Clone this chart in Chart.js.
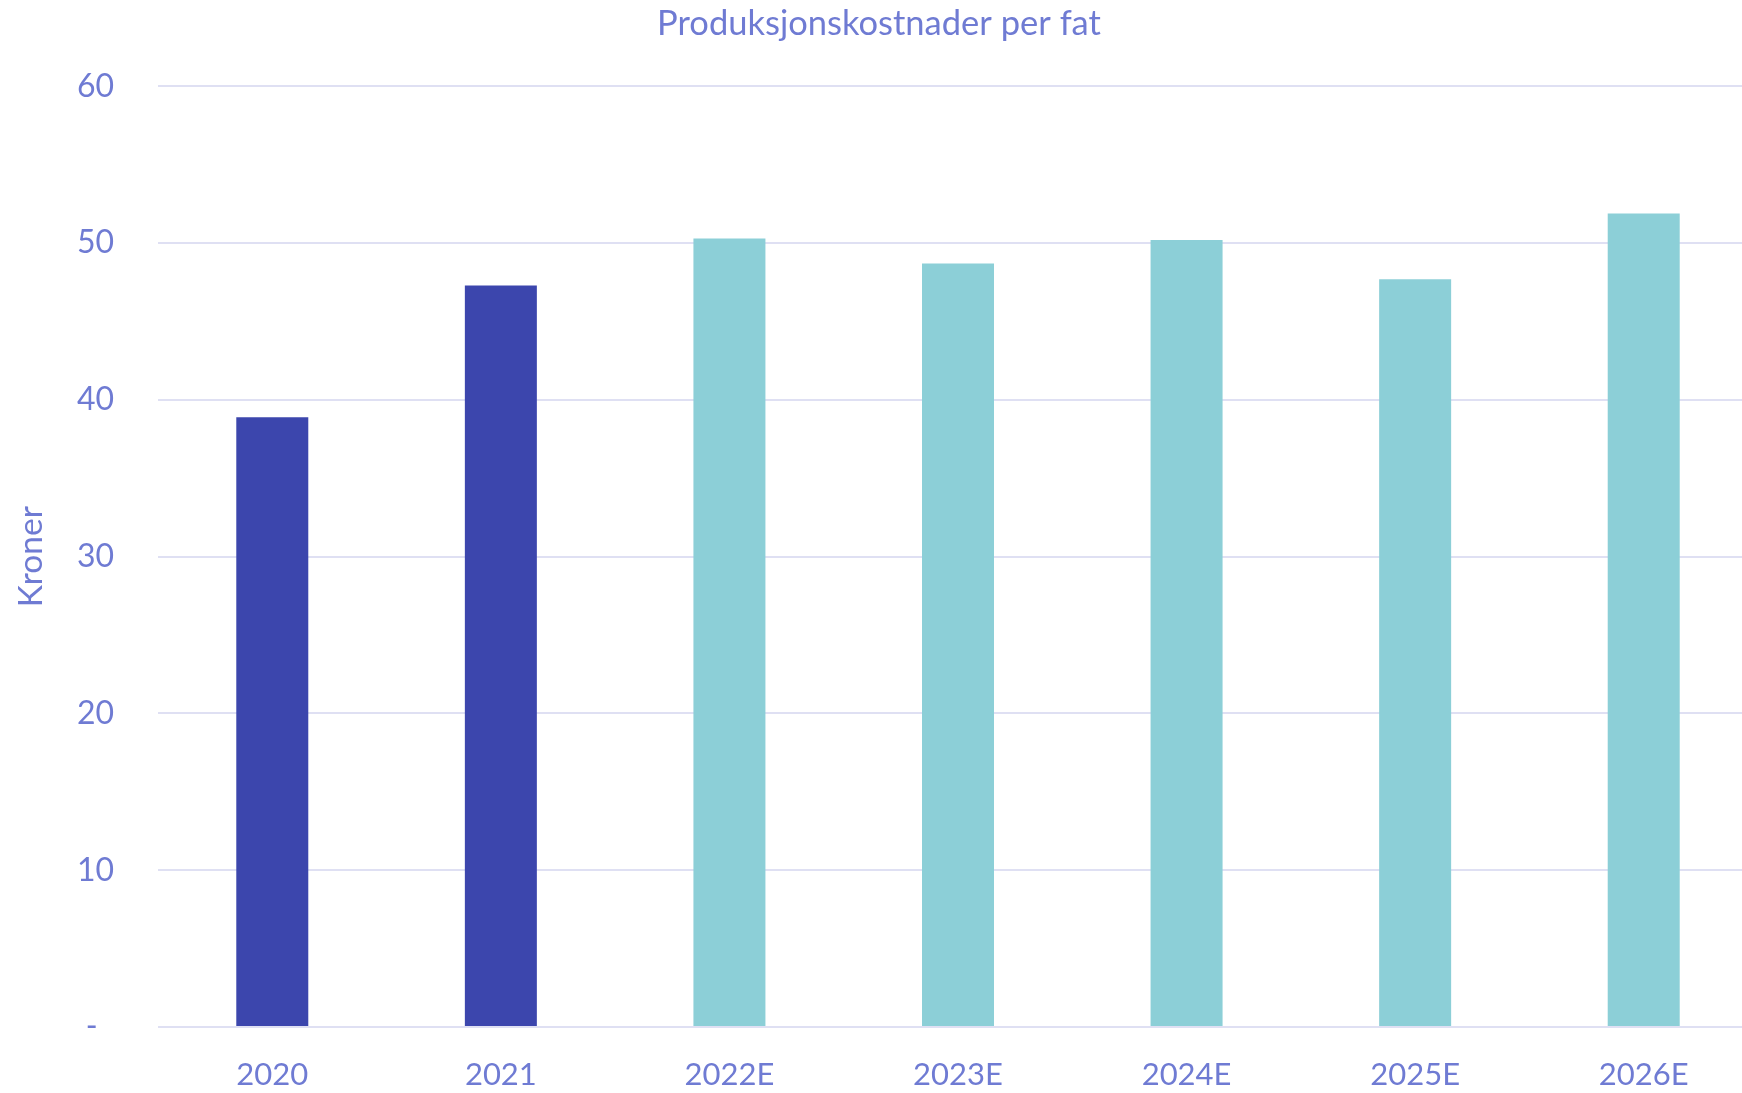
<!DOCTYPE html>
<html>
<head>
<meta charset="utf-8">
<script src="https://cdn.jsdelivr.net/npm/chart.js@4"></script>
<style>
  html, body { margin: 0; padding: 0; background: #ffffff; overflow: hidden; }
  #wrap { width: 1760px; height: 1093px; }
</style>
</head>
<body>
<div id="wrap"><canvas id="chart" width="1760" height="1093"></canvas></div>
<script>
const years = ['2020', '2021', '2022E', '2023E', '2024E', '2025E', '2026E'];
const costPerBarrel = [38.9, 47.3, 50.3, 48.7, 50.2, 47.7, 51.9];
const isEstimate = [false, false, true, true, true, true, true];

const textColor = '#6f7bd3';
const font = "Lato, 'Open Sans', sans-serif";

const ctx = document.getElementById('chart');

new Chart(ctx, {
    type: 'bar',
    data: {
        labels: years,
        datasets: [
            {
                label: 'Kroner',
                data: costPerBarrel,
                backgroundColor: isEstimate.map((e) => e ? '#8ccfd7' : '#3c46ad'),
                borderWidth: 0,
                categoryPercentage: 1,
                barPercentage: 0.315,
            },
        ],
    },
    options: {
        responsive: false,
        animation: false,
        layout: { padding: { left: 0, right: 2, top: 0, bottom: 0 } },
        plugins: {
            legend: { display: false },
            tooltip: { enabled: false },
            title: {
                display: true,
                text: 'Produksjonskostnader per fat',
                color: textColor,
                font: { family: font, size: 34.5, weight: 'normal' },
                padding: { top: 3, bottom: 42 },
            },
        },
        scales: {
            x: {
                grid: { display: false, drawTicks: false },
                border: { display: false },
                ticks: {
                    color: textColor,
                    font: { family: font, size: 31 },
                    padding: 29,
                    maxRotation: 0,
                },
                afterFit: (scale) => { scale.height = 66; },
            },
            y: {
                min: 0,
                max: 60,
                grid: { color: '#dfe0f3', lineWidth: 2, drawTicks: false },
                border: { display: false },
                ticks: {
                    stepSize: 10,
                    color: textColor,
                    font: { family: font, size: 32 },
                    padding: 44,
                    // excel style dash for zero, sits a bit left of the numbers
                    callback: (v) => v === 0 ? '-  ' : v,
                },
                title: {
                    display: true,
                    text: 'Kroner',
                    color: textColor,
                    font: { family: font, size: 33.5 },
                    padding: { top: 11, bottom: 0 },
                },
                afterFit: (scale) => { scale.width = 158; },
            },
        },
    },
});
</script>
</body>
</html>
